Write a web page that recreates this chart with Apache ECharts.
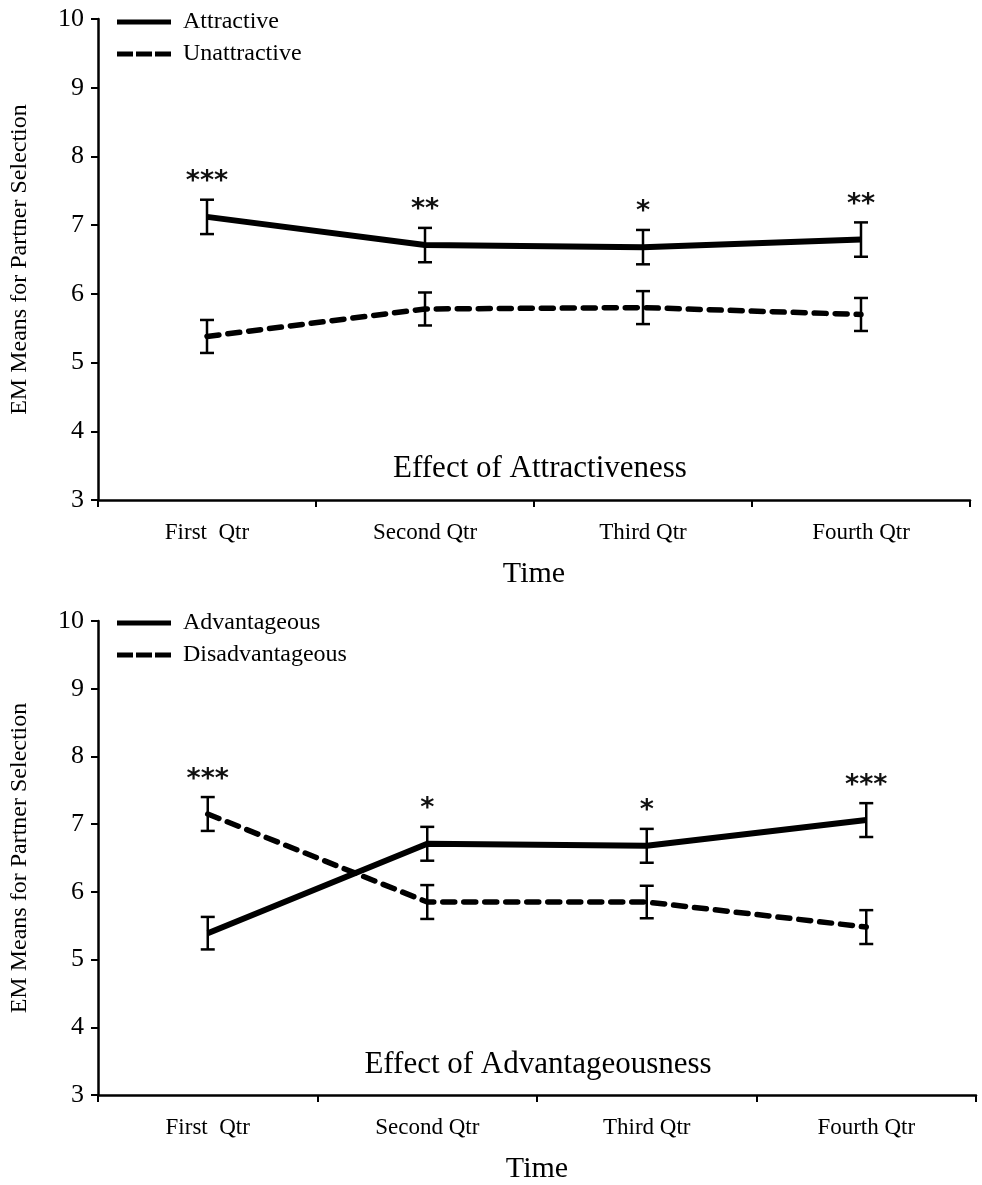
<!DOCTYPE html>
<html>
<head>
<meta charset="utf-8">
<script src="https://cdn.jsdelivr.net/npm/echarts@6/dist/echarts.min.js"></script>
<style>html,body{margin:0;padding:0;background:#fff}#c{width:982px;height:1185px}</style>
</head>
<body>
<div id="c"></div>
<script>
const categories = ['First  Qtr', 'Second Qtr', 'Third Qtr', 'Fourth Qtr'];
const yTicks = [3, 4, 5, 6, 7, 8, 9, 10];

// Panel 1: Effect of Attractiveness
const attractive = [7.12, 6.71, 6.68, 6.79];
const attractiveErr = [0.25, 0.25, 0.25, 0.25];
const unattractive = [5.38, 5.78, 5.80, 5.70];
const unattractiveErr = [0.24, 0.24, 0.24, 0.24];
const sig1 = ['***', '**', '*', '**'];

// Panel 2: Effect of Advantageousness
const advantageous = [5.39, 6.71, 6.68, 7.06];
const advantageousErr = [0.24, 0.25, 0.25, 0.25];
const disadvantageous = [7.15, 5.85, 5.85, 5.48];
const disadvantageousErr = [0.25, 0.25, 0.24, 0.25];
const sig2 = ['***', '*', '*', '***'];

const SERIF = '"Liberation Serif", "DejaVu Serif", serif';
const DASH_ICON = 'path://M0,0H16V5H0Z M19,0H35V5H19Z M38,0H54V5H38Z';

function errData(vals, errs) {
  return vals.map((v, i) => [i, v - errs[i], v + errs[i]]);
}
function errSeries(vals, errs, gi) {
  return {
    type: 'custom', xAxisIndex: gi, yAxisIndex: gi, z: 5, silent: true,
    data: errData(vals, errs),
    renderItem: function (params, api) {
      const lo = api.coord([api.value(0), api.value(1)]);
      const hi = api.coord([api.value(0), api.value(2)]);
      const w = 7;
      const st = { stroke: '#000', lineWidth: 2.5 };
      return { type: 'group', children: [
        { type: 'line', shape: { x1: lo[0], y1: lo[1], x2: hi[0], y2: hi[1] }, style: st },
        { type: 'line', shape: { x1: lo[0] - w, y1: lo[1], x2: lo[0] + w, y2: lo[1] }, style: st },
        { type: 'line', shape: { x1: hi[0] - w, y1: hi[1], x2: hi[0] + w, y2: hi[1] }, style: st }
      ]};
    }
  };
}
function sigSeries(a, ae, b, be, sig, gi) {
  const data = sig.map((s, i) => [i, Math.max(a[i] + ae[i], b[i] + be[i])]);
  return {
    type: 'custom', xAxisIndex: gi, yAxisIndex: gi, z: 6, silent: true,
    data: data,
    renderItem: function (params, api) {
      const p = api.coord([api.value(0), api.value(1)]);
      return { type: 'text', x: p[0], y: p[1] - 31,
        style: { text: sig[params.dataIndex], font: 'bold 27px "DejaVu Sans", sans-serif',
          fill: '#111', align: 'center', verticalAlign: 'top' } };
    }
  };
}
function lineSeries(name, vals, dashed, gi) {
  return {
    name: name, type: 'line', xAxisIndex: gi, yAxisIndex: gi, data: vals,
    symbol: 'none', z: 4, silent: true,
    itemStyle: { color: '#000' },
    lineStyle: { color: '#000', width: dashed ? 5.5 : 6, type: dashed ? [12, 9] : 'solid', cap: dashed ? 'round' : 'butt' }
  };
}
function xAxis(gi) {
  return {
    type: 'category', gridIndex: gi, data: categories, boundaryGap: true,
    name: 'Time', nameLocation: 'middle', nameGap: 59,
    nameTextStyle: { fontFamily: SERIF, fontSize: 30, color: '#000' },
    axisLine: { lineStyle: { color: '#000', width: 2.5 } },
    axisTick: { show: true, inside: false, length: 7, alignWithLabel: false, lineStyle: { color: '#000', width: 2 } },
    axisLabel: { fontFamily: SERIF, fontSize: 23, color: '#000', margin: 21 },
    splitLine: { show: false }
  };
}
function yAxis(gi) {
  return {
    type: 'value', gridIndex: gi, min: yTicks[0], max: yTicks[yTicks.length - 1], interval: 1,
    name: 'EM Means for Partner Selection', nameLocation: 'middle', nameGap: 66,
    nameTextStyle: { fontFamily: SERIF, fontSize: 24, color: '#000' },
    axisLine: { show: true, lineStyle: { color: '#000', width: 2.5 } },
    axisTick: { show: true, inside: false, length: 7, lineStyle: { color: '#000', width: 2 } },
    axisLabel: { fontFamily: SERIF, fontSize: 26, color: '#000', margin: 14 },
    splitLine: { show: false }
  };
}
const legendCommon = {
  orient: 'vertical', left: 112, itemWidth: 54, itemHeight: 5, itemGap: 8,
  itemStyle: { color: '#000', borderWidth: 0 },
  textStyle: { fontFamily: SERIF, fontSize: 24, color: '#000', padding: [0, 0, 0, 7] },
  selectedMode: false
};
const option = {
  backgroundColor: '#fff',
  animation: false,
  grid: [
    { left: 97, right: 12, top: 19, height: 481, containLabel: false },
    { left: 97, right: 6, top: 621, height: 481, containLabel: false }
  ],
  title: [
    { text: 'Effect of Attractiveness', left: 535, top: 448, textAlign: 'center',
      textStyle: { fontFamily: SERIF, fontSize: 31, fontWeight: 'normal', color: '#000' } },
    { text: 'Effect of Advantageousness', left: 533, top: 1044, textAlign: 'center',
      textStyle: { fontFamily: SERIF, fontSize: 31, fontWeight: 'normal', color: '#000' } }
  ],
  legend: [
    Object.assign({}, legendCommon, { top: 5, data: [{ name: 'Attractive', icon: 'rect' }, { name: 'Unattractive', icon: DASH_ICON }] }),
    Object.assign({}, legendCommon, { top: 606, data: [{ name: 'Advantageous', icon: 'rect' }, { name: 'Disadvantageous', icon: DASH_ICON }] })
  ],
  xAxis: [xAxis(0), xAxis(1)],
  yAxis: [yAxis(0), yAxis(1)],
  series: [
    lineSeries('Attractive', attractive, false, 0),
    lineSeries('Unattractive', unattractive, true, 0),
    errSeries(attractive, attractiveErr, 0),
    errSeries(unattractive, unattractiveErr, 0),
    sigSeries(attractive, attractiveErr, unattractive, unattractiveErr, sig1, 0),
    lineSeries('Advantageous', advantageous, false, 1),
    lineSeries('Disadvantageous', disadvantageous, true, 1),
    errSeries(advantageous, advantageousErr, 1),
    errSeries(disadvantageous, disadvantageousErr, 1),
    sigSeries(advantageous, advantageousErr, disadvantageous, disadvantageousErr, sig2, 1)
  ]
};
const chart = echarts.init(document.getElementById('c'), null, { renderer: 'canvas' });
chart.setOption(option);
</script>
</body>
</html>
